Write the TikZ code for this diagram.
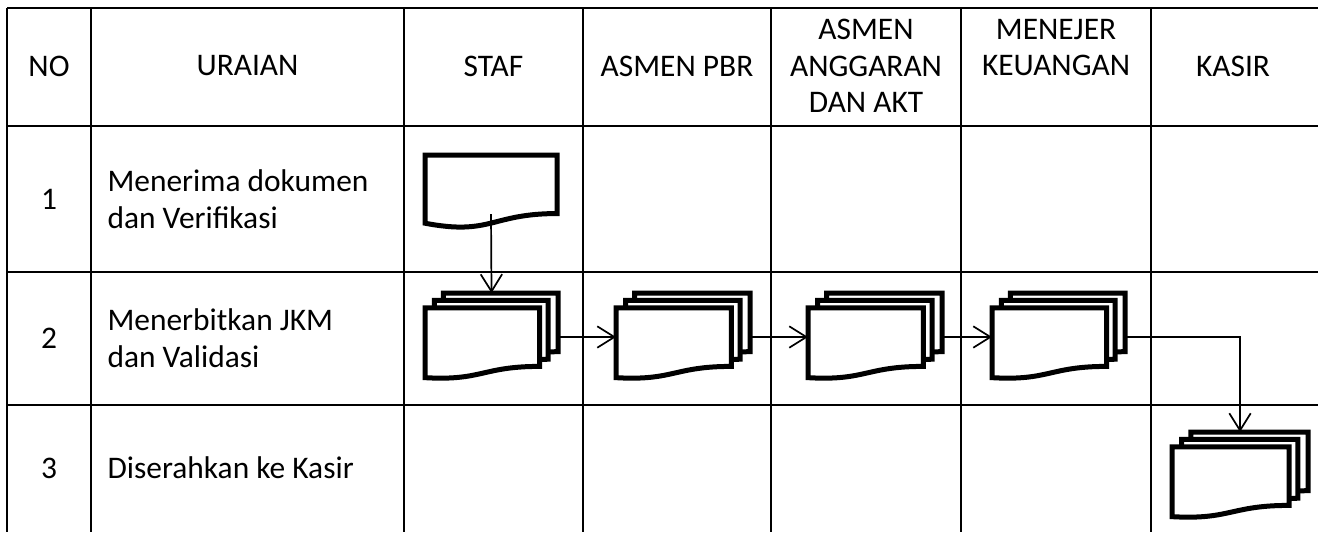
\documentclass[tikz,border=0pt]{standalone}
\usepackage{fontspec}
\setmainfont{Carlito}
\usetikzlibrary{arrows.meta,calc}

% satu dokumen: nama, kiri, atas, lebar, tinggi
\newcommand{\dokumen}[5]{%
  \node[docbox, minimum width=#4*0.35pt, minimum height=#5*0.35pt] (#1) at (#2,#3) {};
  \begin{scope}[shift={(#1.north west)}, x=#4*0.35pt, y=-#5*0.35pt]
    \draw[docline] (0,0) -- (1,0) -- (1,0.802) .. controls (0.5,0.802) and (0.5,1.107) .. (0,0.934) -- cycle;
  \end{scope}}

% tumpukan dokumen
\newcommand{\tumpukan}[5]{%
  \node[docbox, minimum width=#4*0.35pt, minimum height=#5*0.35pt] (#1) at (#2,#3) {};
  \begin{scope}[shift={(#1.north west)}, x=#4*0.35pt, y=-#5*0.35pt]
    \draw[docline] (0.138,0.084) -- (0.138,0) -- (1,0) -- (1,0.666) -- (0.926,0.670);
    \draw[docline] (0.071,0.170) -- (0.071,0.084) -- (0.926,0.084) -- (0.926,0.752) -- (0.861,0.757);
    \draw[docline] (0,0.170) -- (0.861,0.170) -- (0.861,0.834) .. controls (0.430,0.834) and (0.430,1) .. (0,0.962) -- cycle;
  \end{scope}}

\begin{document}
\begin{tikzpicture}[x=0.35pt, y=-0.35pt,
    font=\fontsize{11}{12.8}\selectfont,
    garis/.style={line width=0.7pt},
    docbox/.style={inner sep=0pt, outer sep=0pt, anchor=north west},
    docline/.style={line width=1.75pt, fill=white},
    teks/.style={inner sep=0pt},
    panah/.style={line width=0.6pt, -{Straight Barb[length=6pt,width=7.5pt]}}]
  \useasboundingbox (0,0) rectangle (1318,532);

  % tabel
  \foreach \y in {8,126,272,405}
    \draw[garis] (7,\y) -- (1318,\y);
  \foreach \x in {7,91,404,583,771,961,1151}
    \draw[garis] (\x,8) -- (\x,532);

  % kepala tabel
  \node[teks] (hNo) at (49,66) {NO};
  \node[teks] (hUraian) at (247.5,66) {URAIAN};
  \node[teks] (hStaf) at (493.5,66) {STAF};
  \node[teks] (hPbr) at (677,66) {ASMEN PBR};
  \node[teks, align=center] (hAkt) at (866,66) {ASMEN\\ANGGARAN\\DAN AKT};
  \node[teks, align=center, anchor=north] (hKeu) at (1056,0 |- hAkt.north) {MENEJER\\KEUANGAN};
  \node[teks] (hKasir) at (1233,66) {KASIR};

  % isi
  \node[teks] (n1) at (49,199) {1};
  \node[teks] (n2) at (49,338) {2};
  \node[teks] (n3) at (49,468) {3};
  \node[teks, anchor=west, align=left] (u1) at (107,199) {Menerima dokumen\\dan Verifikasi};
  \node[teks, anchor=west, align=left] (u2) at (107,338) {Menerbitkan JKM\\dan Validasi};
  \node[teks, anchor=west] (u3) at (107,468) {Diserahkan ke Kasir};

  % dokumen
  \dokumen{dStaf}{425}{155}{132}{73}
  \tumpukan{tStaf}{425}{293}{133}{88}
  \tumpukan{tPbr}{616}{293}{134}{88}
  \tumpukan{tAkt}{808}{293}{134}{88}
  \tumpukan{tKeu}{992}{293}{133}{88}
  \tumpukan{tKasir}{1172}{432}{136}{88}

  % alur
  \draw[panah] ($(dStaf.south)+(0,-14)$) -- (tStaf.north);
  \draw[panah] (tStaf.east) -- (tPbr.west);
  \draw[panah] (tPbr.east) -- (tAkt.west);
  \draw[panah] (tAkt.east) -- (tKeu.west);
  \draw[panah] (tKeu.east) -| (tKasir.north);
\end{tikzpicture}
\end{document}
